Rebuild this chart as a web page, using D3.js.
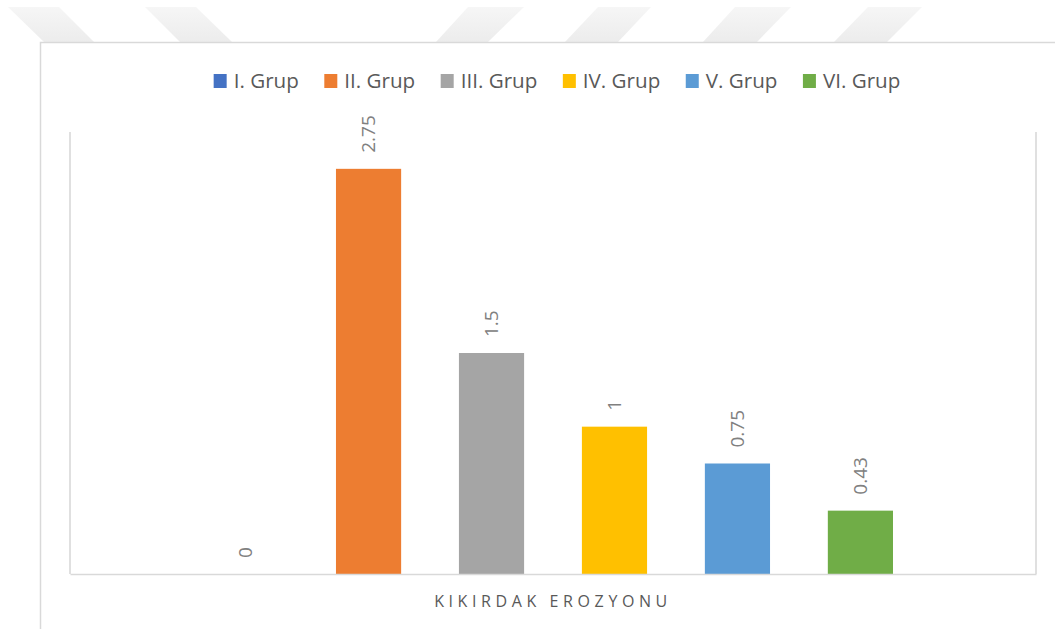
<!DOCTYPE html>
<html>
<head>
<meta charset="utf-8">
<script src="https://cdn.jsdelivr.net/npm/d3@7"></script>
<style>
  html, body { margin: 0; padding: 0; background: #ffffff; }
  svg { display: block; }
  text { font-family: "Open Sans", "Noto Sans", sans-serif; }
</style>
</head>
<body>
<svg id="chart" width="1055" height="629"></svg>
<script>
// ---- data ----
const category = ["KIKIRDAK EROZYONU"];
const seriesNames = ["I. Grup", "II. Grup", "III. Grup", "IV. Grup", "V. Grup", "VI. Grup"];
const seriesValues = [0, 2.75, 1.5, 1, 0.75, 0.43];
const seriesColors = ["#4472C4", "#ED7D31", "#A5A5A5", "#FFC000", "#5B9BD5", "#70AD47"];
const yDomain = [0, 3];

// ---- layout ----
const W = 1055, H = 629;
const plot = { left: 70, right: 1036, top: 132, bottom: 574 };
const svg = d3.select("#chart");

// decorative watermark at top
const wm = svg.append("g");
const wmShapes = [
  [[8,7],[59,7],[94,42],[44,42]],
  [[145,7],[196,7],[232,42],[180,42]],
  [[468,7],[524,7],[488,42],[436,42]],
  [[598,7],[651,7],[618,42],[565,42]],
  [[735,7],[791,7],[757,42],[703,42]],
  [[868,7],[922,7],[887,42],[834,42]]
];
const defs = svg.append("defs");
const grad = defs.append("linearGradient").attr("id", "wmg").attr("x1", 0).attr("x2", 0).attr("y1", 0).attr("y2", 1);
grad.append("stop").attr("offset", "0%").attr("stop-color", "#f6f6f6");
grad.append("stop").attr("offset", "100%").attr("stop-color", "#ececec");
wm.selectAll("path").data(wmShapes).join("path")
  .attr("d", d => "M" + d.map(p => p.join(",")).join("L") + "Z")
  .attr("fill", "url(#wmg)");

// outer chart border
svg.append("rect")
  .attr("x", 40.5).attr("y", 42.5)
  .attr("width", 1100).attr("height", 700)
  .attr("fill", "#ffffff")
  .attr("stroke", "#d9d9d9").attr("stroke-width", 1.5);

// scales
const x0 = d3.scaleBand().domain(category).range([plot.left, plot.right]).padding(0);
const x1 = d3.scaleBand().domain(seriesNames)
  .range([x0(category[0]), x0(category[0]) + x0.bandwidth()])
  .paddingInner(0.47).paddingOuter(1.163);
const y = d3.scaleLinear().domain(yDomain).range([plot.bottom, plot.top]);

// plot area frame (left, right)
const frame = svg.append("g").attr("stroke", "#d9d9d9").attr("stroke-width", 1.6).attr("fill", "none");
frame.append("line").attr("x1", plot.left).attr("x2", plot.left).attr("y1", plot.top).attr("y2", plot.bottom);
frame.append("line").attr("x1", plot.right).attr("x2", plot.right).attr("y1", plot.top).attr("y2", plot.bottom);

// bars
const data = seriesNames.map((s, i) => ({ name: s, value: seriesValues[i], color: seriesColors[i] }));
svg.append("g").selectAll("rect").data(data).join("rect")
  .attr("x", d => x1(d.name))
  .attr("width", x1.bandwidth())
  .attr("y", d => y(d.value))
  .attr("height", d => y(0) - y(d.value))
  .attr("fill", d => d.color);

// x axis (bottom line + category label)
const xAxis = d3.axisBottom(x0).tickSize(0).tickPadding(0);
const gx = svg.append("g").attr("transform", `translate(0,${plot.bottom})`).call(xAxis);
gx.select(".domain").attr("stroke", "#d9d9d9").attr("stroke-width", 1.6);
gx.selectAll(".tick text")
  .attr("dy", "0")
  .attr("y", 33)
  .attr("fill", "#595959")
  .style("font-family", "'Open Sans', sans-serif")
  .style("font-size", "16px")
  .style("letter-spacing", "4.6px");

// data labels (rotated)
svg.append("g").selectAll("text").data(data).join("text")
  .attr("transform", d => `translate(${x1(d.name) + x1.bandwidth() / 2},${y(d.value) - 16}) rotate(-90)`)
  .attr("text-anchor", "start")
  .attr("dy", "0.36em")
  .attr("fill", "#808080")
  .style("font-size", "19px")
  .text(d => String(d.value));

// legend
const legend = svg.append("g");
const items = legend.selectAll("g").data(data).join("g");
items.append("rect").attr("width", 13).attr("height", 14).attr("y", 74).attr("fill", d => d.color);
items.append("text").attr("x", 20).attr("y", 88)
  .attr("fill", "#595959").style("font-size", "20.6px").text(d => d.name);
const widths = [];
items.each(function () {
  const w = 20 + d3.select(this).select("text").node().getComputedTextLength();
  widths.push(w);
});
const gap = 25.5;
const total = d3.sum(widths) + gap * (widths.length - 1);
let start = 557 - total / 2;
items.attr("transform", (d, i) => {
  const t = `translate(${start},0)`;
  start += widths[i] + gap;
  return t;
});
</script>
</body>
</html>
